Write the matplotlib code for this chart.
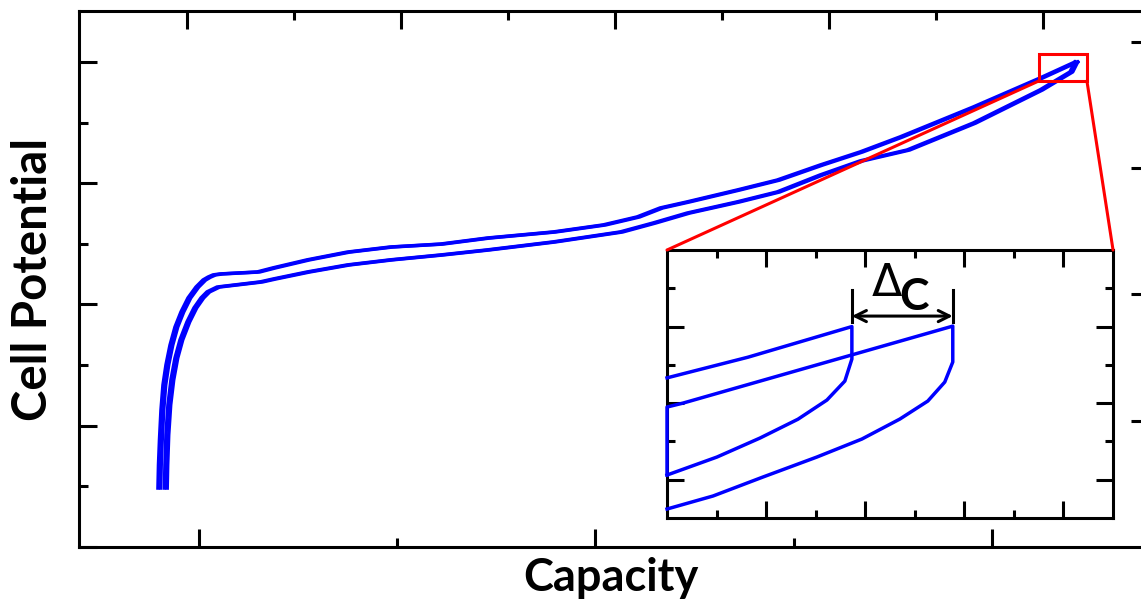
import matplotlib.pyplot as plt
import matplotlib.patches as patches
from matplotlib.patches import ConnectionPatch
import numpy as np

# main plot: charge (upper band) and discharge (lower band)
charge_cap = [89.66, 89.79, 90.04, 90.42, 90.92, 91.68, 92.69, 93.95, 95.46,
              97.23, 99.24, 101.01, 102.27, 103.53, 105.30, 114.63,
              118.66, 127.24, 137.33, 148.17, 160.78, 172.64, 189.28, 201.89,
              210.47, 216.27, 223.08, 235.69, 245.78, 256.62, 266.71, 276.80,
              295.21, 312.11, 320.93]
charge_v = [2.743, 2.838, 2.941, 3.065, 3.168, 3.251, 3.332, 3.407, 3.469,
            3.527, 3.572, 3.601, 3.613, 3.622, 3.626, 3.634,
            3.651, 3.684, 3.716, 3.737, 3.749, 3.774, 3.799, 3.828, 3.861,
            3.898, 3.923, 3.972, 4.013, 4.075, 4.129, 4.191, 4.314, 4.434, 4.500]
discharge_cap = [320.93, 319.67, 312.11, 295.21, 278.56, 266.71, 256.62, 245.78,
                 235.69, 223.08, 214.50, 206.18, 189.28, 172.64, 160.78, 148.17,
                 137.33, 127.24, 118.66, 115.38, 104.54, 102.02, 100.50, 98.74,
                 96.97, 95.21, 93.95, 92.94, 92.18, 91.68, 91.42, 91.30]
discharge_v = [4.500, 4.459, 4.385, 4.248, 4.137, 4.092, 4.034, 3.964, 3.923,
               3.877, 3.836, 3.799, 3.758, 3.725, 3.704, 3.684, 3.663, 3.634,
               3.605, 3.593, 3.572, 3.552, 3.527, 3.486, 3.428, 3.354, 3.279,
               3.189, 3.086, 2.962, 2.838, 2.743]
cycle_shift = [0.0, 0.7]

# inset: two cycles near the top of charge
inset_c1_x = [0.0, 0.817, 1.865, 1.865, 1.794, 1.613, 1.321, 0.938, 0.504, 0.0]
inset_c1_y = [2.33, 2.60, 3.00, 2.576, 2.288, 2.04, 1.79, 1.544, 1.296, 1.061]
inset_c2_x = [0.0, 0.0, 0.16, 2.883, 2.883, 2.802, 2.631, 2.349, 1.966, 1.512,
              0.968, 0.464, 0.0]
inset_c2_y = [1.061, 1.949, 2.0, 3.006, 2.537, 2.275, 2.027, 1.792, 1.531, 1.296,
              1.035, 0.787, 0.617]

zoom_box = (311.85, 4.422, 12.1, 0.111)

font = "Lato"
blue = "#0000FF"

fig = plt.figure(figsize=(11.41, 6.03), dpi=100)
ax = fig.add_axes([0.0692, 0.0929, 0.9325, 0.8889])

for s in cycle_shift:
    ax.plot(np.array(charge_cap) + s, charge_v, color=blue, lw=2.5)
    ax.plot(np.array(discharge_cap) + s, discharge_v, color=blue, lw=2.5)

ax.set_xlim(69.74, 338.08)
ax.set_ylim(2.5, 4.7103)
ax.set_xticks([100, 200, 300])
ax.set_xticks([150, 250], minor=True)
ax.set_yticks([2.5, 3.0, 3.5, 4.0, 4.5])
ax.set_yticks([2.75, 3.25, 3.75, 4.25], minor=True)
ax.tick_params(which="both", direction="in", width=2.2, labelbottom=False,
               labelleft=False, top=False, right=False)
ax.tick_params(which="major", length=13)
ax.tick_params(which="minor", length=6.8)
for sp in ax.spines.values():
    sp.set_linewidth(2.2)

ax.set_xlabel("Capacity", fontsize=32.5, fontweight="bold", family=font, labelpad=7)
ax.set_ylabel("Cell Potential", fontsize=34, fontweight="bold", family=font,
              labelpad=17)

# top ticks
axt = ax.twiny()
axt.set_xlim(-0.5047, 4.467)
axt.set_xticks([0, 1, 2, 3, 4])
axt.set_xticks([0.5, 1.5, 2.5, 3.5], minor=True)
axt.tick_params(which="both", direction="in", width=2.2, labeltop=False)
axt.tick_params(which="major", length=13)
axt.tick_params(which="minor", length=6.8)
for sp in axt.spines.values():
    sp.set_visible(False)

# right ticks
axr = ax.twinx()
axr.set_ylim(0, 4.2455)
axr.set_yticks([1, 2, 3, 4])
axr.tick_params(direction="in", width=2.2, length=8.5, labelright=False)
for sp in axr.spines.values():
    sp.set_visible(False)

rect = patches.Rectangle(zoom_box[:2], zoom_box[2], zoom_box[3], fill=False,
                         ec="red", lw=2.2, zorder=5)
ax.add_patch(rect)

# inset
ins = fig.add_axes([0.5846, 0.141, 0.3909, 0.4444])
ins.plot(inset_c1_x, inset_c1_y, color=blue, lw=2.5, clip_on=False, zorder=3)
ins.plot(inset_c2_x, inset_c2_y, color=blue, lw=2.5, clip_on=False, zorder=3)
ins.set_xlim(0, 4.5)
ins.set_ylim(0.5, 4.0)
ins.set_xticks([1, 2, 3, 4])
ins.set_xticks([0.5, 1.5, 2.5, 3.5], minor=True)
ins.set_yticks([1, 2, 3])
ins.set_yticks([1.5, 2.5, 3.5], minor=True)
ins.tick_params(which="both", direction="in", width=2.2, top=True, right=True,
                labelbottom=False, labelleft=False)
ins.tick_params(which="major", length=12)
ins.tick_params(which="minor", length=5.8)
for sp in ins.spines.values():
    sp.set_linewidth(2.2)

# delta C marker
for xv in [inset_c1_x[2], inset_c2_x[3]]:
    ins.plot([xv, xv], [3.059, 3.477], color="black", lw=2.2)
ins.annotate("", xy=(inset_c1_x[2], 3.137), xytext=(inset_c2_x[3], 3.137),
             arrowprops=dict(arrowstyle="<->", lw=2.2, color="black",
                             mutation_scale=20, shrinkA=0, shrinkB=0))
ins.text(2.218, 3.56, "\u0394", fontsize=32, family="DejaVu Sans",
         ha="center", va="center")
ins.text(2.49, 3.38, "C", fontsize=32, fontweight="bold", family=font,
         ha="center", va="center")

# connector lines
for xa, xb in [(zoom_box[0], 0), (zoom_box[0] + zoom_box[2], 1)]:
    con = ConnectionPatch(xyA=(xa, zoom_box[1]), coordsA=ax.transData,
                          xyB=(xb, 1), coordsB=ins.transAxes, color="red", lw=2.2)
    fig.add_artist(con)

fig.savefig("out.png", dpi=100)
